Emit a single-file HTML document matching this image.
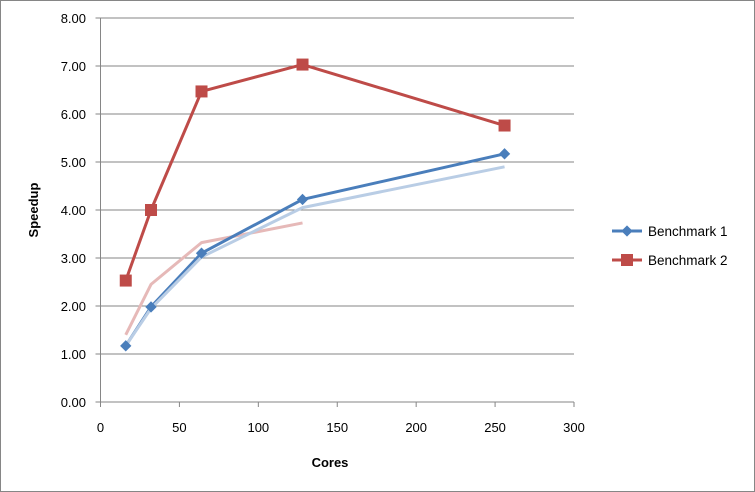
<!DOCTYPE html>
<html><head><meta charset="utf-8"><style>
body{margin:0;background:#fff;font-family:"Liberation Sans",sans-serif;}
svg{display:block}
</style></head><body>
<svg width="755" height="492">
<rect x="0.5" y="0.5" width="754" height="491" fill="#fff" stroke="#868686"/>
<g id="grid"></g><g id="axes"></g><g id="series"></g>
<text x="330" y="467" font-size="13" font-weight="bold" text-anchor="middle">Cores</text>
<text transform="translate(38,210) rotate(-90)" font-size="13" font-weight="bold" text-anchor="middle">Speedup</text>
<g>
<g>
<line x1="612" y1="231" x2="642" y2="231" stroke="#4a7ebb" stroke-width="3"/>
<rect x="623" y="227" width="8" height="8" fill="#4a7ebb" transform="rotate(45 627 231)"/>
<text x="648" y="236" font-size="13.5">Benchmark 1</text></g>
<g>
<line x1="612" y1="260" x2="642" y2="260" stroke="#be4b48" stroke-width="3"/>
<rect x="621" y="254" width="12" height="12" fill="#be4b48"/>
<text x="648" y="265" font-size="13.5">Benchmark 2</text></g>
</g>
</svg>
<script>
const cores=[16,32,64,128,256];
const bench1=[1.17,1.98,3.1,4.22,5.17];
const bench2=[2.53,4.0,6.47,7.03,5.76];
const trend1=[1.17,1.95,3.02,4.05,4.9];
const trendCores2=[16,32,64,128];
const trend2=[1.4,2.45,3.32,3.73];
const xTicks=[0,50,100,150,200,250,300];
const yTicks=[0,1,2,3,4,5,6,7,8];
const X=v=>100.5+v*(574-100.5)/300;
const Y=v=>402-v*48;
const NS="http://www.w3.org/2000/svg";
function mk(tag,attrs,parent){const e=document.createElementNS(NS,tag);for(const k in attrs)e.setAttribute(k,attrs[k]);document.getElementById(parent).appendChild(e);return e;}
yTicks.forEach(t=>{
 const l=mk('line',{x1:X(0)-5,x2:X(300),y1:Y(t),y2:Y(t),stroke:t===0?'#868686':'#868686','stroke-width':1},'grid');
 
 
 const tx=mk('text',{x:86,y:Y(t)+5,'font-size':13,'text-anchor':'end'},'axes');tx.textContent=t.toFixed(2);
 
 
});
const ax=mk('line',{x1:X(0),x2:X(0),y1:Y(8),y2:Y(0)+5,stroke:'#868686'},'axes');


xTicks.forEach(t=>{
 const l=mk('line',{x1:X(t),x2:X(t),y1:Y(0),y2:Y(0)+5,stroke:'#868686'},'axes');
 
 
 const tx=mk('text',{x:X(t),y:432,'font-size':13,'text-anchor':'middle'},'axes');tx.textContent=t;
 
 
});
function line(xs,ys,color,w,name){
 const p=mk('polyline',{points:xs.map((x,i)=>X(x)+','+Y(ys[i])).join(' '),fill:'none',stroke:color,'stroke-width':w,'stroke-linejoin':'round'},'series');
 
 
}
line(trendCores2,trend2,'#e6b9b8',3,'benchmark-2-trend');
line(cores,bench1,'#4a7ebb',3,'benchmark-1-line');
line(cores,trend1,'#b9cde5',3,'benchmark-1-trend');
line(cores,bench2,'#be4b48',3,'benchmark-2-line');
cores.forEach((c,i)=>{
 const d=mk('rect',{x:X(c)-4,y:Y(bench1[i])-4,width:8,height:8,fill:'#4a7ebb',transform:`rotate(45 ${X(c)} ${Y(bench1[i])})`},'series');
 
 
 const s=mk('rect',{x:X(c)-6,y:Y(bench2[i])-6,width:12,height:12,fill:'#be4b48'},'series');
 
 
});
</script>
</body></html>
